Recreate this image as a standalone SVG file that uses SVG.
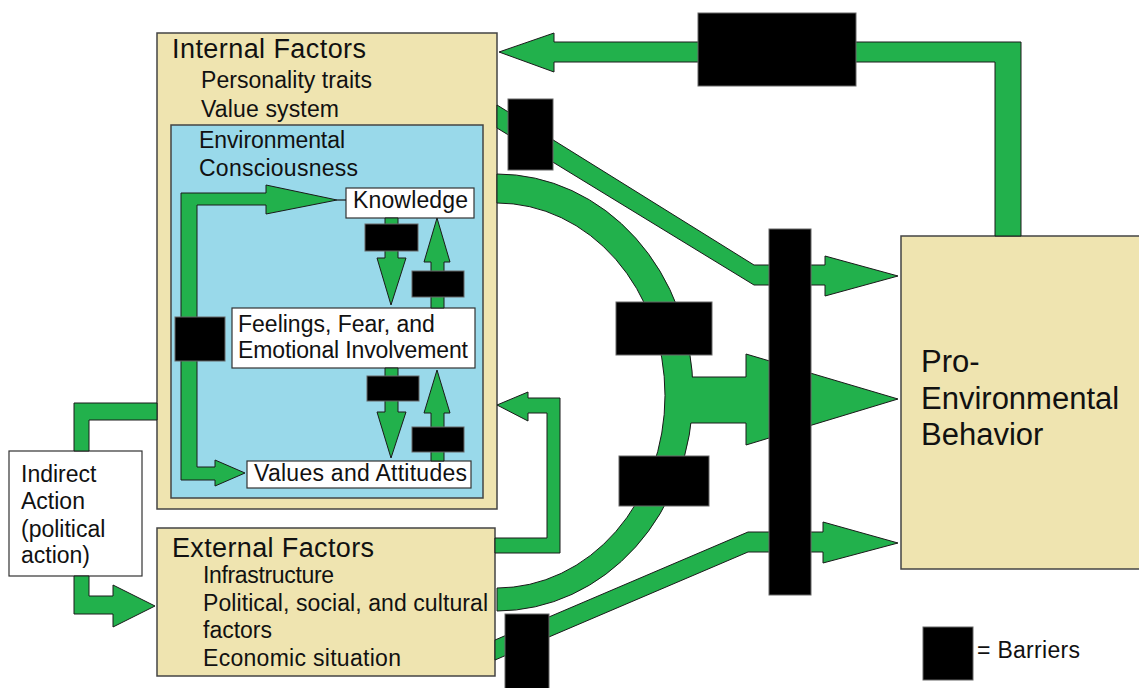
<svg xmlns="http://www.w3.org/2000/svg" width="1139" height="688" viewBox="0 0 1139 688">
<style>
.t{font-family:"Liberation Sans",Arial,sans-serif;font-size:23px;fill:#111}
.h{font-size:27px}
.big{font-size:31px}
.tan{fill:#EFE4B0;stroke:#444;stroke-width:1.5}
.blue{fill:#99D9EA;stroke:#444;stroke-width:1.5}
.wht{fill:#fff;stroke:#333;stroke-width:1.2}
.g{fill:#22B14C;stroke:#1a1a1a;stroke-width:1}
.gf{fill:#22B14C;stroke:none}
.gs{fill:none;stroke:#1a1a1a;stroke-width:1}
.bar{fill:#000;stroke:#666;stroke-width:1}
</style>
<rect width="1139" height="688" fill="#fff"/>

<g id="internal-factors">
<rect class="tan" x="157" y="33" width="340" height="476"/>
<text class="t h" x="172" y="58" textLength="194" lengthAdjust="spacing">Internal Factors</text>
<text class="t" x="201" y="88" textLength="171" lengthAdjust="spacing">Personality traits</text>
<text class="t" x="201" y="117" textLength="138" lengthAdjust="spacing">Value system</text>
<rect class="blue" x="171" y="125" width="312" height="373"/>
<text class="t" x="199" y="148" textLength="146" lengthAdjust="spacing">Environmental</text>
<text class="t" x="199" y="176" textLength="159" lengthAdjust="spacing">Consciousness</text>
</g>

<g id="knowledge">
<rect class="wht" x="346" y="188" width="128" height="30"/>
<text class="t" x="353" y="208" textLength="115" lengthAdjust="spacing">Knowledge</text>
</g>

<g id="feelings">
<rect class="wht" x="232" y="308" width="243" height="60"/>
<text class="t" x="238" y="332">Feelings, Fear, and</text>
<text class="t" x="238" y="358" textLength="230" lengthAdjust="spacing">Emotional Involvement</text>
</g>

<g id="values">
<rect class="wht" x="247" y="461" width="224" height="27"/>
<text class="t" x="254" y="481" textLength="213" lengthAdjust="spacing">Values and Attitudes</text>
</g>

<g id="indirect-action">
<rect class="wht" x="9" y="451" width="133" height="125"/>
<text class="t" x="21" y="482">Indirect</text>
<text class="t" x="21" y="509">Action</text>
<text class="t" x="21" y="537">(political</text>
<text class="t" x="21" y="563">action)</text>
</g>

<g id="external-factors">
<rect class="tan" x="157" y="528" width="338" height="148"/>
<text class="t h" x="172" y="557" textLength="202" lengthAdjust="spacing">External Factors</text>
<text class="t" x="203" y="583" textLength="131" lengthAdjust="spacing">Infrastructure</text>
<text class="t" x="203" y="611" textLength="285" lengthAdjust="spacing">Political, social, and cultural</text>
<text class="t" x="203" y="638">factors</text>
<text class="t" x="203" y="666" textLength="198" lengthAdjust="spacing">Economic situation</text>
</g>

<g id="pro-environmental-behavior">
<rect class="tan" x="901" y="236" width="245" height="333"/>
<text class="t big" x="921" y="372">Pro-</text>
<text class="t big" x="921" y="409">Environmental</text>
<text class="t big" x="921" y="445">Behavior</text>
</g>

<g id="connectors">
<!-- inner L arrow: to Knowledge and to Values -->
<polygon class="g" points="181,193 266,193 266,185 337,200 266,214 266,205 197,205 197,467 215,467 215,460 245,473 215,486 215,480 181,480"/>
<line x1="337" y1="200" x2="346" y2="200" stroke="#1a1a1a" stroke-width="1.2"/>
<!-- Knowledge -> Feelings -->
<polygon class="g" points="385,218 398,218 398,258 406,258 391,305 377,258 385,258"/>
<!-- Feelings -> Knowledge -->
<polygon class="g" points="431,308 444,308 444,262 450,262 437,218 424,262 431,262"/>
<!-- Feelings -> Values -->
<polygon class="g" points="385,368 398,368 398,412 406,412 391,458 377,412 385,412"/>
<!-- Values -> Feelings -->
<polygon class="g" points="431,461 444,461 444,413 450,413 437,370 424,413 431,413"/>

<!-- feedback from behavior to internal factors -->
<polygon class="g" points="1021,236 1021,42 554,42 554,33 499,52 554,72 554,62 995,62 995,236"/>
<!-- value system -> behavior -->
<polygon class="g" points="497,105 754,265 825,265 825,256 898,276 825,296 825,285 754,285 497,128"/>
<!-- arc from internal to external with branch -->
<path class="g" d="M497,174 A196,218.5 0 0 1 497,611 L497,588 A168,192.5 0 0 0 497,203 Z"/>
<polygon class="gf" points="680,377 746,377 746,354 898,399 746,445 746,423 680,423"/>
<polyline class="gs" points="692,377 746,377 746,354 898,399 746,445 746,423 691,423"/>
<!-- external -> internal hook -->
<polygon class="g" points="495,538 547,538 547,413 528,413 528,421 497,405 528,392 528,398 560,398 560,553 495,553"/>
<!-- economic -> behavior -->
<polygon class="g" points="495,640 748,532 823,532 823,522 898,543 823,563 823,552 748,552 495,660"/>
<!-- indirect action connectors -->
<polygon class="g" points="74,451 74,403 157,403 157,420 89,420 89,451"/>
<polygon class="g" points="74,576 74,614 113,614 113,627 155,606 113,585 113,596 89,596 89,576"/>
</g>

<g id="barriers">
<rect class="bar" x="175" y="317" width="50" height="44"/>
<rect class="bar" x="365" y="224" width="53" height="27"/>
<rect class="bar" x="412" y="271" width="52" height="26"/>
<rect class="bar" x="367" y="376" width="52" height="25"/>
<rect class="bar" x="412" y="427" width="52" height="25"/>
<rect class="bar" x="698" y="13" width="158" height="73"/>
<rect class="bar" x="508" y="99" width="45" height="71"/>
<rect class="bar" x="616" y="302" width="96" height="53"/>
<rect class="bar" x="619" y="456" width="90" height="50"/>
<rect class="bar" x="769" y="229" width="42" height="366"/>
<rect class="bar" x="505" y="614" width="44" height="80"/>
</g>

<g id="legend">
<rect class="bar" x="923" y="627" width="50" height="53"/>
<text class="t" x="977" y="658" textLength="103" lengthAdjust="spacing">= Barriers</text>
</g>
</svg>
